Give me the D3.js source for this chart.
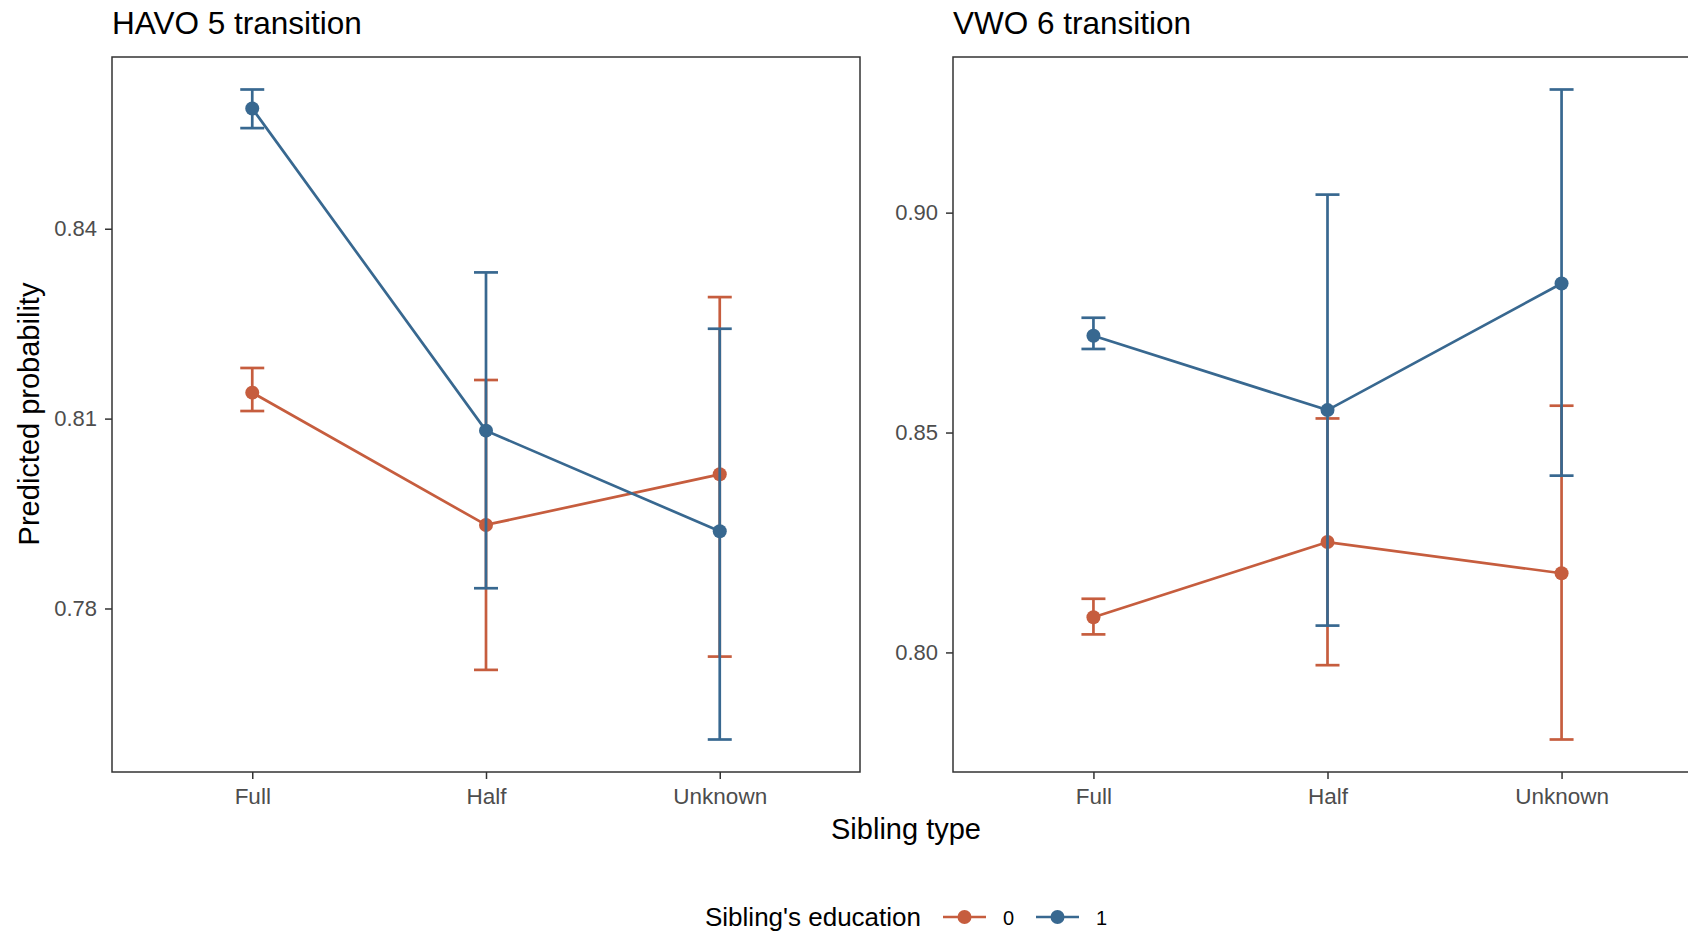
<!DOCTYPE html>
<html>
<head>
<meta charset="utf-8">
<script src="https://cdn.jsdelivr.net/npm/d3@7"></script>
<style>
  html, body { margin: 0; padding: 0; background: #fff; }
  svg { display: block; font-family: "Liberation Sans", Arial, Helvetica, sans-serif; }
</style>
</head>
<body>
<svg id="chart" width="1688" height="934"></svg>
<script>
// ---- data ----
const categories = ["Full", "Half", "Unknown"];
const groups = ["0", "1"];
const panelTitles = ["HAVO 5 transition", "VWO 6 transition"];

// HAVO 5 transition
const havo_est_0 = [0.8141, 0.7932, 0.8012];
const havo_lo_0  = [0.8112, 0.7703, 0.7724];
const havo_hi_0  = [0.8180, 0.8161, 0.8292];
const havo_est_1 = [0.8590, 0.8081, 0.7922];
const havo_lo_1  = [0.8559, 0.7832, 0.7593];
const havo_hi_1  = [0.8620, 0.8331, 0.8242];

// VWO 6 transition
const vwo_est_0 = [0.8080, 0.8251, 0.8180];
const vwo_lo_0  = [0.8041, 0.7971, 0.7802];
const vwo_hi_0  = [0.8122, 0.8532, 0.8561];
const vwo_est_1 = [0.8720, 0.8551, 0.8839];
const vwo_lo_1  = [0.8690, 0.8061, 0.8402];
const vwo_hi_1  = [0.8761, 0.9041, 0.9280];

const havoTicks = [0.78, 0.81, 0.84];
const vwoTicks = [0.80, 0.85, 0.90];

const colors = {"0": "#C65D3E", "1": "#386890"};

function build(est, lo, hi, g) {
  return categories.map((c, i) => ({cat: c, group: g, est: est[i], lo: lo[i], hi: hi[i]}));
}
const panels = [
  {title: panelTitles[0], ticks: havoTicks, fmt: d3.format(".2f"),
   series: [build(havo_est_0, havo_lo_0, havo_hi_0, "0"), build(havo_est_1, havo_lo_1, havo_hi_1, "1")]},
  {title: panelTitles[1], ticks: vwoTicks, fmt: d3.format(".2f"),
   series: [build(vwo_est_0, vwo_lo_0, vwo_hi_0, "0"), build(vwo_est_1, vwo_lo_1, vwo_hi_1, "1")]}
];

// ---- layout ----
const svg = d3.select("#chart");
const pTop = 57, pBottom = 772;
const panelX = [[112, 860], [953, 1702]];
const textCol = "#4D4D4D";

panels.forEach((p, pi) => {
  const [x0, x1] = panelX[pi];
  const all = p.series.flat();
  const mn = d3.min(all, d => d.lo), mx = d3.max(all, d => d.hi);
  const pad = (mx - mn) * 0.05;
  const y = d3.scaleLinear().domain([mn - pad, mx + pad]).range([pBottom, pTop]);
  const x = d3.scalePoint().domain(categories).range([x0, x1]).padding(0.6);
  const g = svg.append("g");

  // y axis
  const ya = g.append("g").attr("transform", `translate(${x0},0)`)
    .call(d3.axisLeft(y).tickValues(p.ticks).tickFormat(p.fmt).tickSize(7).tickPadding(8));
  ya.select(".domain").remove();
  ya.selectAll(".tick line").attr("stroke", "#333").attr("stroke-width", 1.5);
  ya.selectAll(".tick text").attr("fill", textCol).style("font-size", "22px");

  // x axis
  const xa = g.append("g").attr("transform", `translate(0,${pBottom})`)
    .call(d3.axisBottom(x).tickSize(7).tickPadding(9));
  xa.select(".domain").remove();
  xa.selectAll(".tick line").attr("stroke", "#333").attr("stroke-width", 1.5);
  xa.selectAll(".tick text").attr("fill", textCol).style("font-size", "22.5px");

  // data
  const whisk = 12;
  p.series.forEach(s => {
    const col = colors[s[0].group];
    const sg = g.append("g");
    sg.append("path").datum(s)
      .attr("d", d3.line().x(d => x(d.cat)).y(d => y(d.est)))
      .attr("fill", "none").attr("stroke", col).attr("stroke-width", 2.7);
    const eb = sg.selectAll("g.eb").data(s).enter().append("g");
    eb.append("line").attr("x1", d => x(d.cat)).attr("x2", d => x(d.cat))
      .attr("y1", d => y(d.lo)).attr("y2", d => y(d.hi))
      .attr("stroke", col).attr("stroke-width", 2.7);
    eb.append("line").attr("x1", d => x(d.cat) - whisk).attr("x2", d => x(d.cat) + whisk)
      .attr("y1", d => y(d.lo)).attr("y2", d => y(d.lo))
      .attr("stroke", col).attr("stroke-width", 2.7);
    eb.append("line").attr("x1", d => x(d.cat) - whisk).attr("x2", d => x(d.cat) + whisk)
      .attr("y1", d => y(d.hi)).attr("y2", d => y(d.hi))
      .attr("stroke", col).attr("stroke-width", 2.7);
    sg.selectAll("circle").data(s).enter().append("circle")
      .attr("cx", d => x(d.cat)).attr("cy", d => y(d.est)).attr("r", 7)
      .attr("fill", col);
  });

  // panel border
  g.append("rect").attr("x", x0).attr("y", pTop).attr("width", x1 - x0).attr("height", pBottom - pTop)
    .attr("fill", "none").attr("stroke", "#333").attr("stroke-width", 1.5);

  // title
  g.append("text").attr("x", x0).attr("y", 34).text(p.title)
    .style("font-size", "31.5px").attr("fill", "#000");
});

// axis titles
svg.append("text").attr("x", 906).attr("y", 839).attr("text-anchor", "middle")
  .style("font-size", "29px").attr("fill", "#000").text("Sibling type");
svg.append("text").attr("transform", "translate(39,414) rotate(-90)").attr("text-anchor", "middle")
  .style("font-size", "29px").attr("fill", "#000").text("Predicted probability");

// legend
const lg = svg.append("g").attr("transform", "translate(0,917)");
lg.append("text").attr("x", 705).attr("y", 9).style("font-size", "26px").attr("fill", "#000")
  .text("Sibling's education");
const keyX = [943, 1036];
groups.forEach((gname, i) => {
  const kx = keyX[i];
  lg.append("line").attr("x1", kx).attr("x2", kx + 43).attr("y1", 0).attr("y2", 0)
    .attr("stroke", colors[gname]).attr("stroke-width", 2.7);
  lg.append("circle").attr("cx", kx + 21.5).attr("cy", 0).attr("r", 7).attr("fill", colors[gname]);
  lg.append("text").attr("x", kx + 60).attr("y", 7.5).style("font-size", "20px").attr("fill", "#000")
    .text(gname);
});
</script>
</body>
</html>
